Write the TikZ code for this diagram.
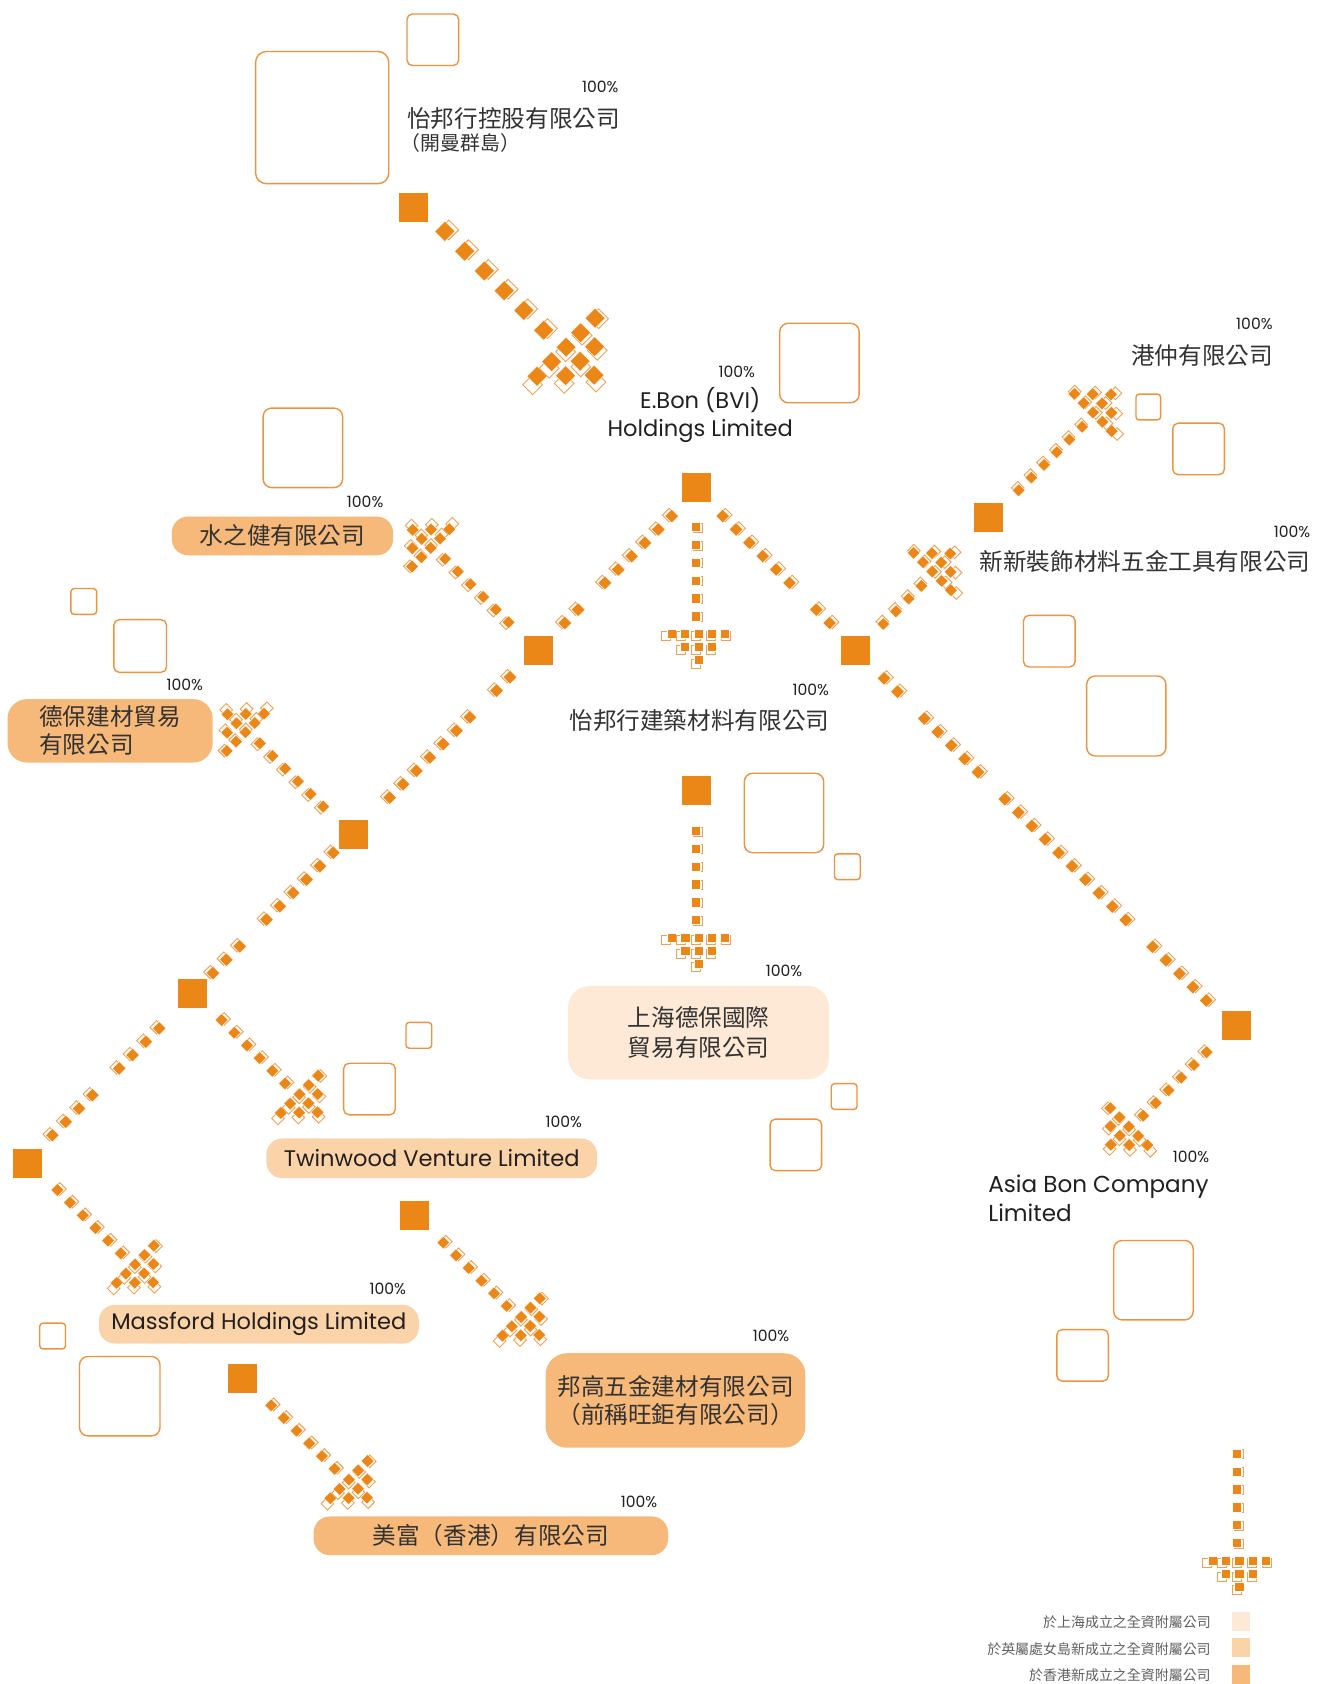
\documentclass[tikz,border=0pt]{standalone}
\usepackage{fontspec}
\setmainfont{Poppins}
\newfontfamily\cjk{Noto Sans CJK TC}
\usetikzlibrary{calc}
\definecolor{org}{RGB}{235,135,22}
\definecolor{orgl}{RGB}{241,160,82}
\definecolor{decoc}{RGB}{238,146,60}
\definecolor{boxd}{RGB}{246,185,122}
\definecolor{boxm}{RGB}{250,211,168}
\definecolor{boxl}{RGB}{253,233,214}
\definecolor{txt}{RGB}{35,31,32}
\definecolor{zhc}{RGB}{50,50,50}
\definecolor{lgd}{RGB}{95,95,95}
% one pixel square: x y (local) dx dy (outline offset)
\newcommand{\pdot}[4]{%
  \draw[orgl, line width=0.85pt] ({#1+#3-0.5},{#2+#4-0.5}) rectangle ++(1,1);
  \filldraw[fill=org, draw=white, line width=0.35pt] ({#1-0.51},{#2-0.51}) rectangle ++(1.02,1.02);
}
% chain of squares: start, angle, mirror, unit, index list
\newcommand{\pchain}[5]{%
  \begin{scope}[shift={#1}, rotate=#2, xscale=#3, scale=#4]
    \foreach \k in {#5} {\pdot{0}{2*\k}{0.27}{0.12}}
  \end{scope}}
% arrow head: start, angle, mirror, unit, first row (local y)
\newcommand{\phead}[5]{%
  \begin{scope}[shift={#1}, rotate=#2, xscale=#3, scale=#4]
    \foreach \c/\r in {-2/0,-1/0,0/0,1/0,2/0,-1/1,0/1,1/1,0/2}
      {\pdot{1.47*(\c)+0.27}{#5+1.42*(\r)}{-0.25+0.2*(\c)}{0.2+0.12*(\r)}}
  \end{scope}}
\begin{document}
\begin{tikzpicture}[x=1pt,y=-1pt,
  hub/.style={fill=org, minimum size=27pt, inner sep=0pt, draw=none},
  deco/.style={draw=decoc, line width=1.3pt},
  cbox/.style={rounded corners=15pt, inner sep=0pt, draw=none},
  pct/.style={font=\fontsize{14.5}{16}\selectfont, text=txt, inner sep=0pt},
  zh/.style={font=\cjk\fontsize{22}{26}\selectfont, text=zhc, inner sep=0pt},
  en/.style={font=\fontsize{21}{26}\selectfont, text=txt, inner sep=0pt},
  lg/.style={font=\cjk\fontsize{13}{15}\selectfont, text=lgd, inner sep=0pt, anchor=east},
  sw/.style={minimum width=17pt, minimum height=18pt, inner sep=0pt, draw=none}
]
\useasboundingbox (0,0) rectangle (1226,1568);

% decorative rounded squares
\draw[deco, rounded corners=5pt] (379,13) rectangle (427,61);
\draw[deco, rounded corners=10pt] (238,48) rectangle (362,171);
\draw[deco, rounded corners=8pt] (726,301) rectangle (800,375);
\draw[deco, rounded corners=8pt] (245,380) rectangle (319,454);
\draw[deco, rounded corners=3pt] (1057.7,367) rectangle (1080.7,391);
\draw[deco, rounded corners=5pt] (1092,394) rectangle (1140,442);
\draw[deco, rounded corners=3pt] (66,548) rectangle (90,572);
\draw[deco, rounded corners=5pt] (106,577) rectangle (155,626);
\draw[deco, rounded corners=5pt] (953,573) rectangle (1001,621);
\draw[deco, rounded corners=8pt] (1011.8,629.4) rectangle (1085.6,703.9);
\draw[deco, rounded corners=8pt] (693,720) rectangle (767,794);
\draw[deco, rounded corners=3pt] (777,795) rectangle (801,819);
\draw[deco, rounded corners=3pt] (378,952) rectangle (402,976);
\draw[deco, rounded corners=5pt] (320,990) rectangle (368,1038);
\draw[deco, rounded corners=3pt] (774,1009) rectangle (798,1033);
\draw[deco, rounded corners=5pt] (717,1042) rectangle (765,1090);
\draw[deco, rounded corners=8pt] (1037,1155) rectangle (1111,1229);
\draw[deco, rounded corners=5pt] (984,1238) rectangle (1032,1286);
\draw[deco, rounded corners=3pt] (37,1232) rectangle (61,1256);
\draw[deco, rounded corners=8pt] (74,1263) rectangle (149,1337);

% hubs
\node[hub] (A) at (385,193) {};
\node[hub] (B) at (648.5,453.5) {};
\node[hub] (C) at (920.5,481.5) {};
\node[hub] (D) at (501.5,605.3) {};
\node[hub] (E) at (796.5,605.3) {};
\node[hub] (F) at (329,777) {};
\node[hub] (G) at (648.5,736.5) {};
\node[hub] (H) at (179.2,925) {};
\node[hub] (I) at (1151.3,954.5) {};
\node[hub] (J) at (25.6,1083) {};
\node[hub] (K) at (386,1131.4) {};
\node[hub] (L) at (225.5,1283.5) {};
\coordinate (LG) at (1151.5,1353.2);

% arrows with heads
\pchain{($(A)+(29.3,22.5)$)}{45}{1}{13}{0,...,5}
\phead{($(A)+(29.3,22.5)$)}{45}{1}{13}{12}
\pchain{($(B)+(-0.6,36.7)$)}{0}{1}{8.35}{0,...,5}
\phead{($(B)+(-0.6,36.7)$)}{0}{1}{8.35}{12}
\pchain{($(G)+(-0.5,36.7)$)}{0}{1}{8.35}{0,...,5}
\phead{($(G)+(-0.5,36.7)$)}{0}{1}{8.35}{12}
\pchain{(LG)}{0}{1}{8.35}{0,...,5}
\phead{(LG)}{0}{1}{8.35}{12}
\pchain{($(C)+(28,-25)$)}{135}{1}{8.35}{0,...,5}
\phead{($(C)+(28,-25)$)}{135}{1}{8.35}{12}
\pchain{($(E)+(25.9,-24.3)$)}{135}{1}{8.35}{0,...,3}
\phead{($(E)+(25.9,-24.3)$)}{135}{1}{8.35}{8}
\pchain{($(D)+(-28,-25.9)$)}{225}{1}{8.35}{0,...,5}
\phead{($(D)+(-28,-25.9)$)}{225}{1}{8.35}{12}
\pchain{($(F)+(-28,-25.9)$)}{225}{1}{8.35}{0,...,5}
\phead{($(F)+(-28,-25.9)$)}{225}{1}{8.35}{12}
\pchain{($(H)+(27.2,24.7)$)}{45}{1}{8.35}{0,...,5}
\phead{($(H)+(27.2,24.7)$)}{45}{1}{8.35}{12}
\pchain{($(J)+(27.8,25)$)}{45}{1}{8.35}{0,...,5}
\phead{($(J)+(27.8,25)$)}{45}{1}{8.35}{12}
\pchain{($(K)+(26.8,25.6)$)}{45}{1}{8.35}{0,...,5}
\phead{($(K)+(26.8,25.6)$)}{45}{1}{8.35}{12}
\pchain{($(L)+(27,25)$)}{45}{1}{8.35}{0,...,5}
\phead{($(L)+(27,25)$)}{45}{1}{8.35}{12}
\pchain{($(I)+(-27.8,25.3)$)}{-45}{-1}{8.35}{0,...,5}
\phead{($(I)+(-27.8,25.3)$)}{-45}{-1}{8.35}{12}

% chains between hubs
\pchain{($(B)+(-23.1,27)$)}{-45}{-1}{8.8}{0,...,5,7,8}
\pchain{($(B)+(24.4,27)$)}{45}{1}{8.8}{0,...,5,7,8}
\pchain{($(D)+(-26.6,25.3)$)}{-45}{-1}{8.8}{0,1,3,4,5,6,7,8,9}
\pchain{($(F)+(-18.7,17)$)}{-45}{-1}{8.8}{0,...,5,7,8,9}
\pchain{($(H)+(-30.9,32.5)$)}{-45}{-1}{8.8}{0,1,2,3,5,6,7,8}
\pchain{($(E)+(26.6,26.3)$)}{45}{1}{8.84}{0,1,3,4,5,6,7,9,10,11,12,13,14,15,16,17,18,20,21,22,23,24}

% percentages
\node[pct] (p1) at (559,81) {100\%};
\node[pct] (p2) at (686,346) {100\%};
\node[pct] (p3) at (1168,302) {100\%};
\node[pct] (p4) at (340,467) {100\%};
\node[pct] (p5) at (1203,495) {100\%};
\node[pct] (p6) at (172,638) {100\%};
\node[pct] (p7) at (755,642) {100\%};
\node[pct] (p8) at (730,904) {100\%};
\node[pct] (p9) at (525,1045) {100\%};
\node[pct] (p10) at (1109,1077) {100\%};
\node[pct] (p11) at (361,1200) {100\%};
\node[pct] (p12) at (718,1244) {100\%};
\node[pct] (p13) at (595,1398) {100\%};

% plain labels
\node[zh, anchor=west] (t1) at (379,110) {怡邦行控股有限公司};
\node[zh, anchor=west, font=\cjk\fontsize{18.5}{20}\selectfont] (t1b) at (373,133) {（開曼群島）};
\node[en, align=center] (t2) at (652,386) {E.Bon (BVI)\\Holdings Limited};
\node[zh, anchor=west] (t3) at (1053,331) {港仲有限公司};
\node[zh, anchor=west] (t4) at (912,523) {新新裝飾材料五金工具有限公司};
\node[zh, anchor=west] (t5) at (530,671) {怡邦行建築材料有限公司};
\node[en, anchor=west, align=left, font=\fontsize{21.5}{27}\selectfont] (t6) at (920,1115.5) {Asia Bon Company\\Limited};

% boxed labels
\node[cbox, zh, fill=boxd, minimum width=206pt, minimum height=36pt] (b1) at (263,499) {水之健有限公司};
\node[cbox, zh, fill=boxd, minimum width=191pt, minimum height=59pt, align=left, rounded corners=18pt] (b2) at (102.5,680.5) {德保建材貿易\\有限公司};
\node[cbox, zh, fill=boxl, minimum width=243pt, minimum height=87pt, align=center, rounded corners=20pt, font=\cjk\fontsize{22}{28}\selectfont] (b3) at (650.5,961.5) {上海德保國際\\貿易有限公司};
\node[cbox, en, fill=boxm, minimum width=308pt, minimum height=37pt] (b4) at (402,1078.5) {Twinwood Venture Limited};
\node[cbox, en, fill=boxm, minimum width=298pt, minimum height=36pt] (b5) at (241,1233) {Massford Holdings Limited};
\node[cbox, zh, fill=boxd, minimum width=242pt, minimum height=88pt, align=left, rounded corners=20pt] (b6) at (629,1304) {邦高五金建材有限公司\\（前稱旺鉅有限公司）};
\node[cbox, zh, fill=boxd, minimum width=330pt, minimum height=36pt] (b7) at (457,1430) {美富（香港）有限公司};

% legend
\node[lg] (l1) at (1127.5,1510.6) {於上海成立之全資附屬公司};
\node[lg] (l2) at (1127.5,1535.4) {於英屬處女島新成立之全資附屬公司};
\node[lg] (l3) at (1127.5,1559.6) {於香港新成立之全資附屬公司};
\node[sw, fill=boxl] (s1) at (1155.7,1509.7) {};
\node[sw, fill=boxm] (s2) at (1155.7,1534) {};
\node[sw, fill=boxd] (s3) at (1155.7,1559) {};
\end{tikzpicture}
\end{document}
